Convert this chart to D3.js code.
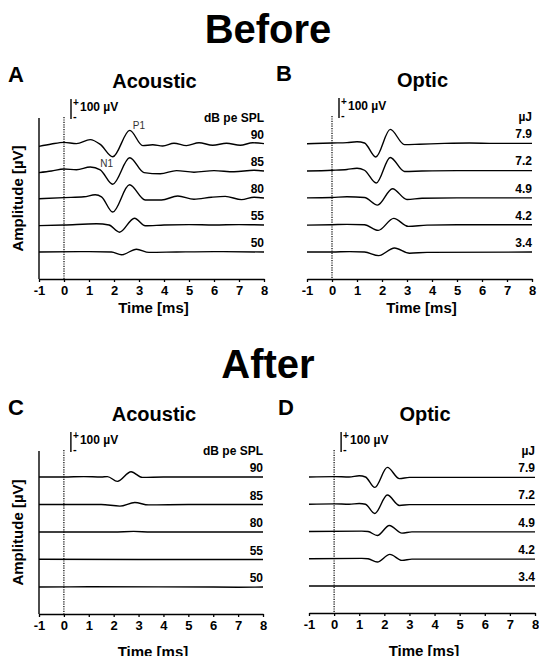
<!DOCTYPE html>
<html>
<head>
<meta charset="utf-8">
<script src="https://cdn.jsdelivr.net/npm/d3@7"></script>
<style>
  body { margin: 0; background: #fff; }
  svg { display: block; }
  text { font-family: "Liberation Sans", Arial, sans-serif; }
</style>
</head>
<body>
<div id="chart"></div>
<script>
const X_TICKS = [-1, 0, 1, 2, 3, 4, 5, 6, 7, 8]
const ACOUSTIC_LEVELS = ['90', '85', '80', '55', '50']
const OPTIC_LEVELS = ['7.9', '7.2', '4.9', '4.2', '3.4']

// each trace: [time (ms), amplitude (µV)], one trace per level, top to bottom
const beforeAcoustic = [
  [[-1,-12],[-0.5,0],[0,8],[0.5,2],[1.05,22],[1.45,-2],[1.95,-64],[2.63,68],[3.15,-8],[3.55,-4],[3.95,-10],[4.4,4],[4.9,-8],[5.4,6],[5.95,-6],[6.5,4],[7.05,-6],[7.55,6],[8,2]],
  [[-1,-8],[-0.5,0],[0,10],[0.5,6],[1.05,20],[1.45,6],[1.95,-66],[2.63,66],[3.2,-8],[3.85,-14],[4.5,2],[5.2,-6],[6,2],[6.8,-4],[7.6,4],[8,0]],
  [[-1,-4],[0,2],[0.8,6],[1.25,16],[1.5,6],[1.95,-70],[2.62,66],[3.25,-10],[3.9,-10],[4.55,10],[5.2,-6],[5.9,4],[6.45,8],[7.1,-8],[7.6,4],[8,0]],
  [[-1,-3],[0,0],[1.3,6],[1.8,0],[2.22,-36],[2.82,34],[3.25,-4],[4,0],[5,2],[6,0],[7,2],[8,0]],
  [[-1,0],[1,2],[1.9,0],[2.3,-14],[2.9,14],[3.4,-2],[4.5,0],[6,2],[8,0]]
]
const beforeOptic = [
  [[-1,-4],[0,0],[0.6,2],[1,6],[1.3,0],[1.75,-70],[2.33,68],[2.9,-8],[3.5,-6],[4.5,-2],[5.5,0],[6.5,-2],[8,-2]],
  [[-1,-4],[0,0],[0.6,4],[1,10],[1.3,0],[1.77,-64],[2.33,64],[2.9,-6],[3.6,-4],[5,-2],[6.5,-2],[8,-2]],
  [[-1,-2],[0,0],[0.6,4],[1.3,0],[1.82,-38],[2.42,44],[3,-10],[3.6,-4],[5,-2],[8,-2]],
  [[-1,-2],[0,0],[0.6,2],[1.3,0],[1.85,-28],[2.47,32],[3.05,-8],[3.8,-2],[5,0],[8,0]],
  [[-1,0],[0,0],[0.7,2],[1.3,0],[1.87,-18],[2.5,20],[3.1,-6],[3.8,-2],[8,0]]
]
const afterAcoustic = [
  [[-1,0],[0,0],[0.8,2],[1.5,0],[1.75,2],[2.15,-22],[2.7,26],[3.15,-2],[4,0],[8,0]],
  [[-1,0],[1.5,0],[2.25,-8],[2.85,10],[3.4,-2],[5,0],[8,0]],
  [[-1,0],[2,0],[2.8,3],[3.5,0],[8,0]],
  [[-1,1],[3,0],[8,0]],
  [[-1,0],[1,1],[6,0],[7,-1],[8,0]]
]
const afterOptic = [
  [[-1,0],[0,2],[0.6,0],[1,6],[1.25,0],[1.62,-52],[2.12,48],[2.6,-8],[3,-2],[4,-2],[8,-2]],
  [[-1,0],[0,2],[0.6,0],[1,4],[1.25,0],[1.62,-46],[2.12,46],[2.6,-6],[3,-2],[8,-2]],
  [[-1,0],[1.1,2],[1.35,0],[1.72,-20],[2.2,30],[2.7,-8],[3.1,-2],[8,-2]],
  [[-1,0],[1.1,2],[1.35,0],[1.72,-16],[2.22,22],[2.7,-8],[3.1,-2],[8,-2]],
  [[-1,0],[8,0]]
]

const svg = d3.select('#chart').append('svg')
  .attr('width', 539)
  .attr('height', 656)

svg.append('text').attr('x', 268).attr('y', 43).attr('text-anchor', 'middle')
  .attr('font-size', 40).attr('font-weight', 'bold').text('Before')
svg.append('text').attr('x', 268).attr('y', 378).attr('text-anchor', 'middle')
  .attr('font-size', 40).attr('font-weight', 'bold').text('After')

const panels = [
  {letter: 'A', title: 'Acoustic', unit: 'dB pe SPL', levels: ACOUSTIC_LEVELS, traces: beforeAcoustic,
   left: 39, right: 264, top: 118, bottom: 279, yAxis: true, peaks: true, xTitleGap: 34},
  {letter: 'B', title: 'Optic', unit: 'µJ', levels: OPTIC_LEVELS, traces: beforeOptic,
   left: 307, right: 532, top: 117, bottom: 279, yAxis: false, peaks: false, xTitleGap: 34},
  {letter: 'C', title: 'Acoustic', unit: 'dB pe SPL', levels: ACOUSTIC_LEVELS, traces: afterAcoustic,
   left: 39, right: 263, top: 451, bottom: 614, yAxis: true, peaks: false, xTitleGap: 43},
  {letter: 'D', title: 'Optic', unit: 'µJ', levels: OPTIC_LEVELS, traces: afterOptic,
   left: 309, right: 535, top: 451, bottom: 613, yAxis: false, peaks: false, xTitleGap: 43}
]

// 100 µV = 20 px
const amp = d3.scaleLinear().domain([0, 100]).range([0, -20])

panels.forEach(p => {
  const g = svg.append('g')
  const x = d3.scaleLinear().domain([-1, 8]).range([p.left, p.right])
  const rows = d3.scalePoint().domain(p.levels).range([p.top + 26, p.bottom - 27])

  const axis = g.append('g')
    .attr('transform', `translate(0,${p.bottom})`)
    .call(d3.axisBottom(x).tickValues(X_TICKS).tickSize(3).tickSizeOuter(0).tickPadding(4)
      .tickFormat(d => String(d)))
  axis.select('.domain').attr('stroke-width', 1.4)
  axis.selectAll('.tick line').attr('stroke-width', 1.3)
  axis.selectAll('.tick text').attr('font-size', 13).attr('font-weight', 'bold')
    .attr('font-family', '"Liberation Sans", Arial, sans-serif').attr('fill', '#000')

  g.append('text')
    .attr('x', (p.left + p.right) / 2 + 2).attr('y', p.bottom + p.xTitleGap)
    .attr('text-anchor', 'middle').attr('font-size', 15).attr('font-weight', 'bold')
    .text('Time [ms]')

  if (p.yAxis) {
    g.append('line')
      .attr('x1', p.left).attr('x2', p.left)
      .attr('y1', p.top).attr('y2', p.bottom)
      .attr('stroke', '#000').attr('stroke-width', 1.4)
    g.append('text')
      .attr('transform', `translate(23,${(p.top + p.bottom) / 2}) rotate(-90)`)
      .attr('text-anchor', 'middle').attr('font-size', 15).attr('font-weight', 'bold')
      .text('Amplitude [µV]')
  }

  // stimulus onset
  g.append('line')
    .attr('x1', x(0)).attr('x2', x(0))
    .attr('y1', p.top - 1).attr('y2', p.bottom)
    .attr('stroke', '#000').attr('stroke-width', 1.2)
    .attr('stroke-dasharray', '1.2,1.2')

  // scale bar
  const barX = x(0) + 7
  const barBottom = p.top + 1
  const barTop = barBottom + amp(100)
  g.append('line')
    .attr('x1', barX).attr('x2', barX).attr('y1', barTop).attr('y2', barBottom)
    .attr('stroke', '#000').attr('stroke-width', 1.4)
  g.append('text').attr('x', barX + 2).attr('y', barTop + 7)
    .attr('font-size', 10).attr('font-weight', 'bold').text('+')
  g.append('text').attr('x', barX + 2).attr('y', barBottom + 1)
    .attr('font-size', 11).attr('font-weight', 'bold').text('-')
  g.append('text').attr('x', barX + 9).attr('y', barTop + 12)
    .attr('font-size', 12).attr('font-weight', 'bold').text('100 µV')

  g.append('text')
    .attr('x', p.left - 31).attr('y', p.top - 36)
    .attr('font-size', 22).attr('font-weight', 'bold').text(p.letter)
  g.append('text')
    .attr('x', (p.left + p.right) / 2 + 3).attr('y', p.top - 30)
    .attr('text-anchor', 'middle').attr('font-size', 20).attr('font-weight', 'bold')
    .text(p.title)
  g.append('text')
    .attr('x', p.right).attr('y', p.top + 4)
    .attr('text-anchor', 'end').attr('font-size', 12).attr('font-weight', 'bold')
    .text(p.unit)

  p.levels.forEach((lev, i) => {
    const base = rows(lev)
    const line = d3.line()
      .x(d => x(d[0]))
      .y(d => base + amp(d[1]))
      .curve(d3.curveMonotoneX)
    g.append('path')
      .datum(p.traces[i])
      .attr('d', line)
      .attr('fill', 'none')
      .attr('stroke', '#000')
      .attr('stroke-width', 1.4)
    g.append('text')
      .attr('x', p.right).attr('y', base - 5)
      .attr('text-anchor', 'end').attr('font-size', 12).attr('font-weight', 'bold')
      .text(lev)
  })

  if (p.peaks) {
    g.append('text').attr('x', x(2.75)).attr('y', p.top + 11)
      .attr('font-size', 10).attr('fill', '#333').text('P1')
    g.append('text').attr('x', x(1.45)).attr('y', p.top + 49)
      .attr('font-size', 10).attr('fill', '#333').text('N1')
  }
})
</script>
</body>
</html>
